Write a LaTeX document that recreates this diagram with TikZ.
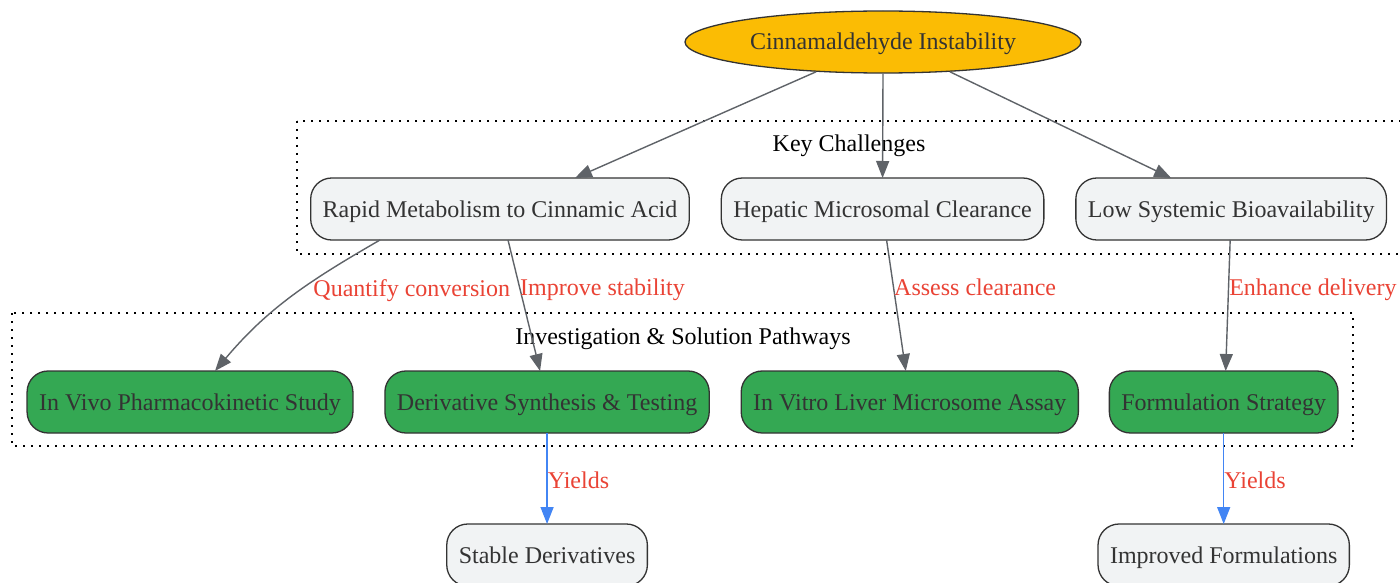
\documentclass[tikz,border=0pt]{standalone}
\usepackage{fontspec}
\setmainfont{Liberation Serif}
\usetikzlibrary{positioning, arrows.meta, shapes.geometric}

\definecolor{amber}{HTML}{FBBC04}
\definecolor{leafgreen}{HTML}{34A853}
\definecolor{palegray}{HTML}{F1F3F4}
\definecolor{inkgray}{HTML}{333333}
\definecolor{linegray}{HTML}{5F6368}
\definecolor{lblred}{HTML}{EA4335}
\definecolor{yieldblue}{HTML}{4285F4}

\tikzset{
  box/.style={draw=inkgray, line width=1.3pt, rounded corners=21pt, minimum height=62pt,
    inner xsep=12pt, inner ysep=0pt, outer sep=0pt, text height=20pt, text depth=4pt, text=inkgray},
  challenge/.style={box, fill=palegray},
  pathway/.style={box, fill=leafgreen},
  outcome/.style={box, fill=palegray},
  cluster/.style={line width=1.6pt, dash pattern=on 1.6pt off 6.4pt},
  grouplbl/.style={anchor=base, inner sep=0pt},
  lbl/.style={text=lblred, inner sep=0pt, text height=20pt, text depth=4pt},
  flow/.style={draw=linegray, line width=1.4pt, -{Triangle[length=17pt,width=13pt]}},
  yield/.style={draw=yieldblue, line width=1.4pt, -{Triangle[length=17pt,width=13pt]}}
}

\begin{document}
\begin{tikzpicture}[x=1pt, y=-1pt, font=\fontsize{24pt}{29pt}\selectfont]
\useasboundingbox[fill=white] (0,0) rectangle (1400,583);
% groups
\draw[cluster] (297,121) rectangle (1420,254);
\draw[cluster] (12,313) rectangle (1353,446);
\node[grouplbl] (keylbl) at (849,151) {Key Challenges};
\node[grouplbl] (pathlbl) at (683,344) {Investigation \& Solution Pathways};
% root
\node[ellipse, draw=inkgray, line width=1.3pt, fill=amber, text=inkgray, minimum width=396pt,
  minimum height=62pt, inner sep=0pt, text height=20pt, text depth=4pt] (cinn) at (883,42) {Cinnamaldehyde Instability};
% challenges
\node[challenge] (rapid) at (500,209) {Rapid Metabolism to Cinnamic Acid};
\node[challenge, right=32pt of rapid] (hepatic) {Hepatic Microsomal Clearance};
\node[challenge, right=32pt of hepatic] (lowbio) {Low Systemic Bioavailability};
% pathways
\node[pathway] (invivo) at (190,402) {In Vivo Pharmacokinetic Study};
\node[pathway, right=32pt of invivo] (deriv) {Derivative Synthesis \& Testing};
\node[pathway, right=32pt of deriv] (invitro) {In Vitro Liver Microsome Assay};
\node[pathway, right=31pt of invitro] (formul) {Formulation Strategy};
% outcomes
\node[outcome, below=91pt of deriv] (stable) {Stable Derivatives};
\node[outcome, below=91pt of formul] (improved) {Improved Formulations};
% connectors
\draw[flow] (cinn.204) -- ([xshift=75pt]rapid.north);
\draw[flow] (cinn.south) -- (hepatic.north);
\draw[flow] (cinn.-24) -- ([xshift=-60pt]lowbio.north);
\draw[flow] ([xshift=-120pt]rapid.south) .. controls +(-71,41) and +(53,-63) .. ([xshift=25pt]invivo.north)
  node[lbl, pos=0.5, anchor=west, xshift=22pt, yshift=9pt] {Quantify conversion};
\draw[flow] ([xshift=8pt]rapid.south) -- ([xshift=-7pt]deriv.north)
  node[lbl, pos=0.36, anchor=west] {Improve stability};
\draw[flow] ([xshift=4pt]hepatic.south) -- ([xshift=-4pt]invitro.north)
  node[lbl, pos=0.36, anchor=west] {Assess clearance};
\draw[flow] ([xshift=-1pt]lowbio.south) -- ([xshift=2pt]formul.north)
  node[lbl, pos=0.36, anchor=west] {Enhance delivery};
\draw[yield] (deriv.south) -- (stable.north) node[lbl, pos=0.52, anchor=west] {Yields};
\draw[yield] (formul.south) -- (improved.north) node[lbl, pos=0.52, anchor=west] {Yields};
\end{tikzpicture}
\end{document}
